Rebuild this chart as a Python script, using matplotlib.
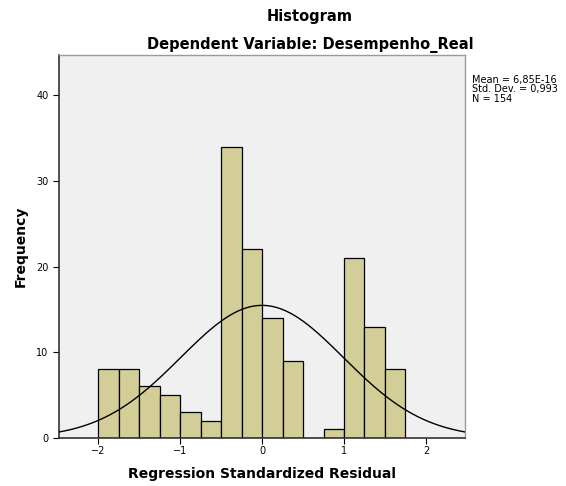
import numpy as np
import matplotlib.pyplot as plt

# Datos del histograma (residuos estandarizados)
bin_edges = [-2.0, -1.75, -1.5, -1.25, -1.0, -0.75, -0.5, -0.25, 0.0, 0.25,
             0.5, 0.75, 1.0, 1.25, 1.5, 1.75]
counts = [8, 8, 6, 5, 3, 2, 34, 22, 14, 9, 0, 1, 21, 13, 8]
mean = 6.85e-16
std = 0.993
n = 154
stats_text = "Mean = 6,85E-16\nStd. Dev. = 0,993\nN = 154"
xticks = [-2, -1, 0, 1, 2]
yticks = [0, 10, 20, 30, 40]

fig = plt.figure(figsize=(5.66, 4.86), dpi=100)
ax = fig.add_axes([0.104, 0.099, 0.718, 0.788])
ax.set_facecolor('#f0f0f0')

left = np.array(bin_edges[:-1])
width = np.diff(bin_edges)

# sombra de las barras
ax.bar(left + 0.012, counts, width=width, align='edge', color='#8a8a8a',
       edgecolor='none', zorder=1)
ax.bar(left, counts, width=width, align='edge', color='#d3ce97',
       edgecolor='black', linewidth=0.9, zorder=2)

# curva normal
x = np.linspace(-2.6, 2.6, 400)
binw = bin_edges[1] - bin_edges[0]
y = n * binw / (std * np.sqrt(2 * np.pi)) * np.exp(-0.5 * ((x - mean) / std) ** 2)
ax.plot(x, y, color='black', linewidth=1.0, zorder=3)

ax.set_xlim(-2.48, 2.48)
ax.set_ylim(0, 44.7)
ax.set_xticks(xticks)
ax.set_xticklabels(['\u22122', '\u22121', '0', '1', '2'])
ax.set_yticks(yticks)
ax.tick_params(axis='both', direction='out', length=4, labelsize=7, width=0.8,
               colors='black')
ax.tick_params(axis='x', pad=2)

for side in ['top', 'right']:
    ax.spines[side].set_color('#9a9a9a')
    ax.spines[side].set_linewidth(1.0)
for side in ['left', 'bottom']:
    ax.spines[side].set_color('#333333')
    ax.spines[side].set_linewidth(1.2)

ax.set_xlabel('Regression Standardized Residual', fontsize=10, fontweight='bold',
              labelpad=8)
ax.set_ylabel('Frequency', fontsize=10, fontweight='bold', labelpad=6)

fig.text(0.5477, 0.967, 'Histogram', ha='center', va='center', fontsize=10.5,
         fontweight='bold')
fig.text(0.5477, 0.908, 'Dependent Variable: Desempenho_Real', ha='center',
         va='center', fontsize=10.5, fontweight='bold')

fig.text(0.834, 0.846, stats_text, ha='left', va='top', fontsize=7,
         linespacing=0.95)

fig.savefig('out.png', dpi=100)
